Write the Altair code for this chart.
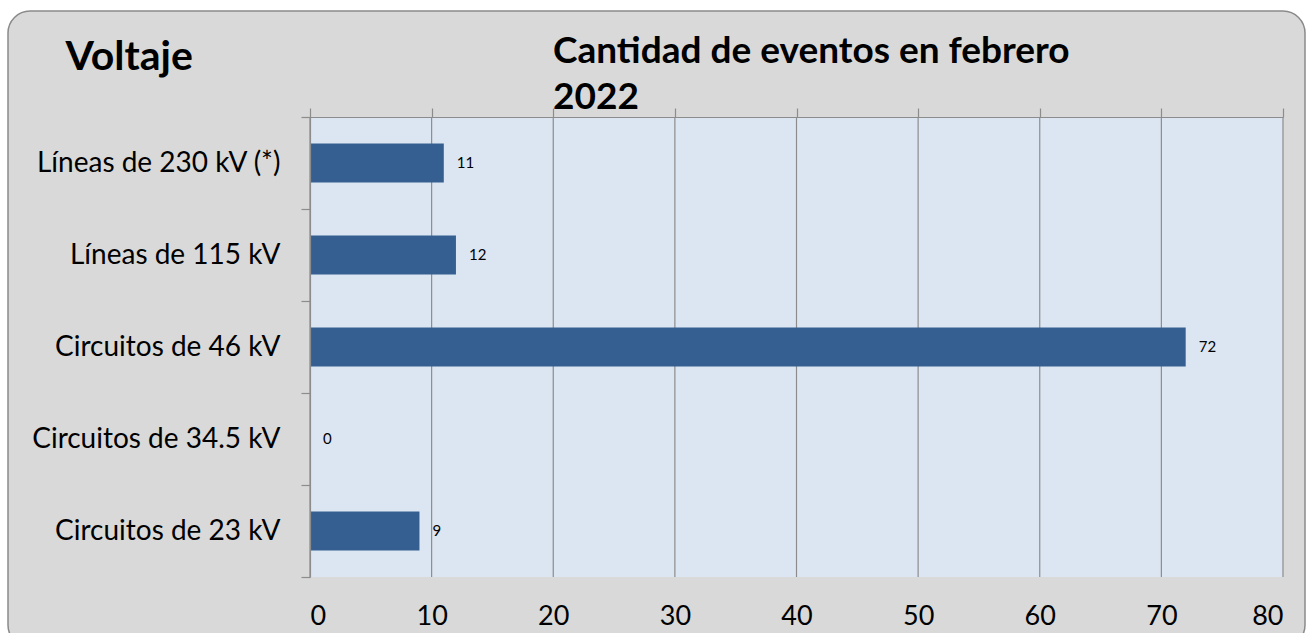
import altair as alt
import pandas as pd

# ---- data ----
categories = ["Líneas de 230 kV (*)", "Líneas de 115 kV", "Circuitos de 46 kV",
              "Circuitos de 34.5 kV", "Circuitos de 23 kV"]
values = [11, 12, 72, 0, 9]
x_ticks = [0, 10, 20, 30, 40, 50, 60, 70, 80]
chart_title = "Cantidad de eventos en febrero\n2022"
axis_title = "Voltaje"

W, H = 973, 460
FONT = "Lato"

df = pd.DataFrame({"cat": categories, "val": values})
grid_df = pd.DataFrame({"t": x_ticks})
one = pd.DataFrame({"t": [chart_title]})

xscale = alt.Scale(domain=[0, 80], nice=False, zero=True)

frame = alt.Chart(one).mark_rect(
    fill="#d9d9d9", stroke="#8a8a8a", strokeWidth=1.5, cornerRadius=22
).encode(x=alt.value(-302), x2=alt.value(995), y=alt.value(-106), y2=alt.value(530))

plot_bg = alt.Chart(one).mark_rect(fill="#dce6f2").encode(
    x=alt.value(0), x2=alt.value(W), y=alt.value(0), y2=alt.value(H))

grid = alt.Chart(grid_df).mark_rule(color="#8c8c8c", strokeWidth=1.2).encode(
    x=alt.X("t:Q", scale=xscale,
            axis=alt.Axis(orient="top", labels=False, ticks=True, tickSize=9,
                          tickColor="#8c8c8c", tickWidth=1.2, domain=True,
                          domainColor="#8c8c8c", domainWidth=1.2, grid=False,
                          title=None, values=x_ticks, zindex=1)),
    y=alt.value(0), y2=alt.value(H))

bars = alt.Chart(df).mark_bar(color="#355f91", size=39).encode(
    x=alt.X("val:Q", scale=xscale,
            axis=alt.Axis(orient="bottom", values=x_ticks, labels=True, ticks=False,
                          tickSize=0, domain=False, grid=False, title=None,
                          labelFont=FONT, labelFontSize=27, labelColor="#000000",
                          labelPadding=26, zindex=1)),
    y=alt.Y("cat:N", sort=categories,
            scale=alt.Scale(paddingInner=0, paddingOuter=0),
            axis=alt.Axis(orient="left", title=axis_title, titleAngle=0,
                          titleX=-245, titleY=-48, titleAlign="left",
                          titleBaseline="alphabetic", titleFont=FONT,
                          titleFontSize=41, titleFontWeight="bold",
                          titleColor="#000000",
                          labelFont=FONT, labelFontSize=28, labelColor="#000000",
                          labelPadding=21, tickBand="extent", tickSize=9,
                          tickColor="#8c8c8c", tickWidth=1.2, domain=True,
                          domainColor="#8c8c8c", domainWidth=1.2, grid=False,
                          labelLimit=400, zindex=1)),
)

labels = alt.Chart(df).mark_text(
    align="left", baseline="middle", dx=13, font=FONT, fontSize=15, color="#000000"
).encode(
    x=alt.X("val:Q", scale=xscale, axis=None),
    y=alt.Y("cat:N", sort=categories, axis=None),
    text=alt.Text("val:Q"),
)

title = alt.Chart(one).mark_text(
    align="left", baseline="alphabetic", font=FONT, fontSize=37, fontWeight="bold",
    color="#000000", lineBreak="\n", lineHeight=46
).encode(x=alt.value(243), y=alt.value(-54), text="t:N")

chart = alt.layer(frame, plot_bg, grid, bars, labels, title).resolve_axis(
    x="independent", y="independent"
).properties(
    width=W, height=H,
    autosize=alt.AutoSizeParams(type="none"),
    padding={"left": 310, "top": 117, "right": 27, "bottom": 56},
    background="#ffffff",
).configure_view(stroke=None)

chart.save("out.html", embed_options={"renderer": "svg", "actions": False})
